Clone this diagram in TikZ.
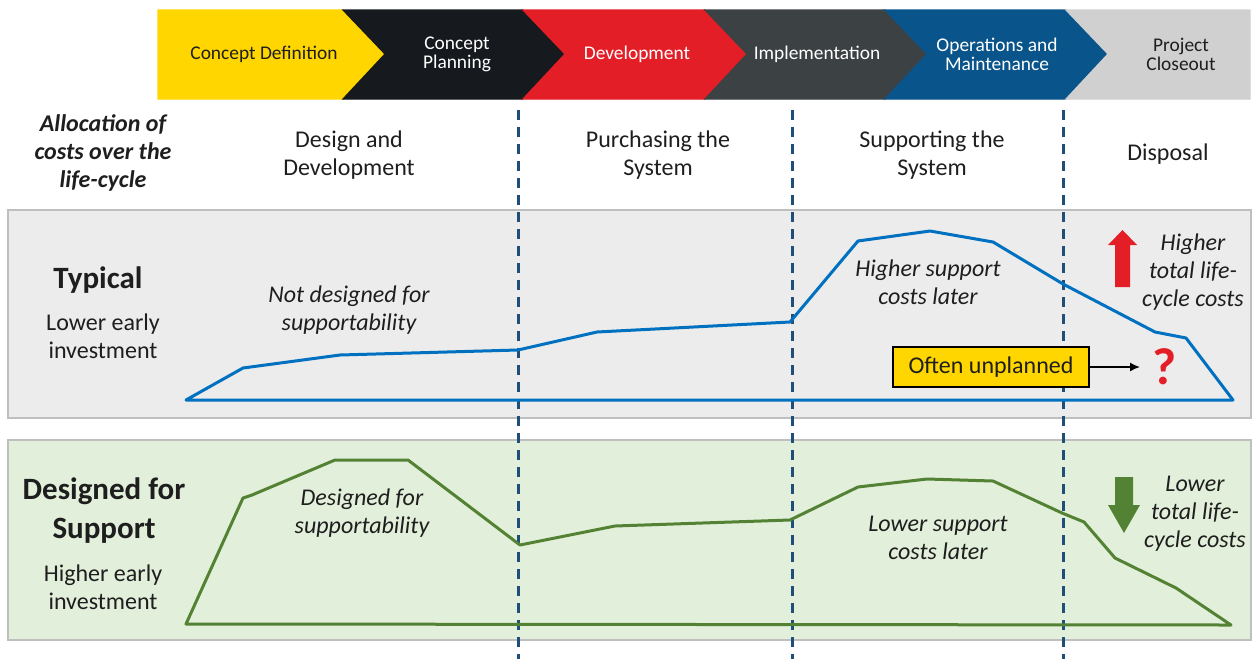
\documentclass[tikz,border=0pt]{standalone}
\usepackage{fontspec}
\setmainfont{Carlito}
\usetikzlibrary{positioning,arrows.meta}
\definecolor{cdyellow}{RGB}{255,214,0}
\definecolor{cpblack}{RGB}{22,26,30}
\definecolor{dvred}{RGB}{228,30,38}
\definecolor{imgray}{RGB}{60,65,67}
\definecolor{opblue}{RGB}{10,84,140}
\definecolor{clgray}{RGB}{208,208,208}
\definecolor{panelgray}{RGB}{236,236,236}
\definecolor{panelgreen}{RGB}{226,239,218}
\definecolor{dashblue}{RGB}{31,78,121}
\definecolor{costblue}{RGB}{0,112,192}
\definecolor{costgreen}{RGB}{84,130,53}
\definecolor{txtgray}{RGB}{30,30,30}
\begin{document}
\begin{tikzpicture}[x=0.5pt,y=-0.5pt,every node/.style={align=center,inner sep=0pt,text=txtgray}]
    \tikzset{hdr/.style={font=\fontsize{9.7}{9.5}\selectfont,text=white},
      chev/.style={draw=white,line width=0.6pt},
      body/.style={font=\fontsize{12}{14}\selectfont},
      note/.style={font=\fontsize{12}{14}\selectfont\itshape},
      big/.style={font=\fontsize{15.5}{19.5}\selectfont\bfseries},
      panel/.style={draw=black!25,line width=0.75pt},
      phase/.style={draw=dashblue,line width=1.5pt,dash pattern=on 5pt off 3.5pt},
      cost/.style={line width=1.5pt,line join=round}}
    \useasboundingbox (0,0) rectangle (1252,659);
    % phase chevrons
    \fill[chev,cdyellow] (158,10) -- (343,10) -- (385,54) -- (343,99) -- (158,99) -- cycle;
    \fill[chev,cpblack] (343,10) -- (523,10) -- (565,54) -- (523,99) -- (343,99) -- (385,54) -- cycle;
    \fill[chev,dvred] (523,10) -- (705,10) -- (747,54) -- (705,99) -- (523,99) -- (565,54) -- cycle;
    \fill[chev,imgray] (705,10) -- (885,10) -- (927,54) -- (885,99) -- (705,99) -- (747,54) -- cycle;
    \fill[chev,opblue] (885,10) -- (1066,10) -- (1108,54) -- (1066,99) -- (885,99) -- (927,54) -- cycle;
    \fill[chev,clgray] (1066,10) -- (1250,10) -- (1250,99) -- (1066,99) -- (1108,54) -- cycle;
    \node[hdr,text=txtgray] (cdef) at (264,54) {Concept Definition};
    \node[hdr] (cplan) at (457,54) {Concept\\Planning};
    \node[hdr] (dev) at (637,54) {Development};
    \node[hdr] (impl) at (817,54) {Implementation};
    \node[hdr] (ops) at (997,54) {Operations and\\Maintenance};
    \node[hdr,text=txtgray] (close) at (1181,54) {Project\\Closeout};
    % cost allocation row
    \node[body,font=\fontsize{12}{14}\selectfont\bfseries\itshape] (alloc) at (103,153) {Allocation of\\costs over the\\life-cycle};
    \node[body] (design) at (349,155) {Design and\\Development};
    \node[body] (purch) at (658,155) {Purchasing the\\System};
    \node[body] (supp) at (932,155) {Supporting the\\System};
    \node[body] (disp) at (1168,154) {Disposal};
    % panels
    \filldraw[panel,fill=panelgray] (8,210) rectangle (1251,418);
    \filldraw[panel,fill=panelgreen] (8,440) rectangle (1251,640);
    \draw[phase] (518,110) -- (518,659);
    \draw[phase] (792,110) -- (792,659);
    \draw[phase] (1063,110) -- (1063,659);
    % typical
    \draw[cost,costblue] (186,400) -- (243,368) -- (340,355) -- (518,350) -- (597,332)
      -- (790,322) -- (858,241) -- (930,231) -- (993,242) -- (1063,284) -- (1155,332)
      -- (1186,338) -- (1233,400) -- cycle;
    \node[big] (typ) at (98,280) {Typical};
    \node[body] (typsub) at (103,336) {Lower early\\investment};
    \node[note] (notdes) at (349,310) {Not designed for\\supportability};
    \node[note] (hisupp) at (928,282) {Higher support\\costs later};
    \node[note] (hitot) at (1193,272) {Higher\\total life-\\cycle costs};
    \fill[dvred] (1115,287) -- (1115,245) -- (1108,245) -- (1122.5,230) -- (1137,245)
      -- (1130,245) -- (1130,287) -- cycle;
    \node[body,draw=black,line width=0.9pt,fill=cdyellow,minimum width=98pt,minimum height=20pt] (unpl) at (991,367) {Often unplanned};
    \coordinate (qend) at (1140,367);
    \draw[-{Latex[length=5pt,width=4.5pt]},line width=0.8pt,black] (unpl) -- (qend);
    \node[font=\fontsize{26}{26}\selectfont\bfseries,text=dvred,right=6pt of qend] (qmark) {?};
    % designed for support
    \draw[cost,costgreen] (186,624) -- (243,498) -- (252,495) -- (335,460) -- (408,460)
      -- (520,545) -- (615,526) -- (790,520) -- (858,487) -- (927,479) -- (993,481)
      -- (1062,513) -- (1084,522) -- (1115,558) -- (1176,588) -- (1231,625) -- cycle;
    \node[big] (dfs) at (104,511) {Designed for\\Support};
    \node[body] (dfssub) at (103,587) {Higher early\\investment};
    \node[note] (dessupp) at (362,513) {Designed for\\supportability};
    \node[note] (losupp) at (938,538) {Lower support\\costs later};
    \node[note] (lotot) at (1195,514) {Lower\\total life-\\cycle costs};
    \fill[costgreen] (1115,477) -- (1115,505) -- (1108,505) -- (1124,533) -- (1140,505)
      -- (1133,505) -- (1133,477) -- cycle;
\end{tikzpicture}
\end{document}
